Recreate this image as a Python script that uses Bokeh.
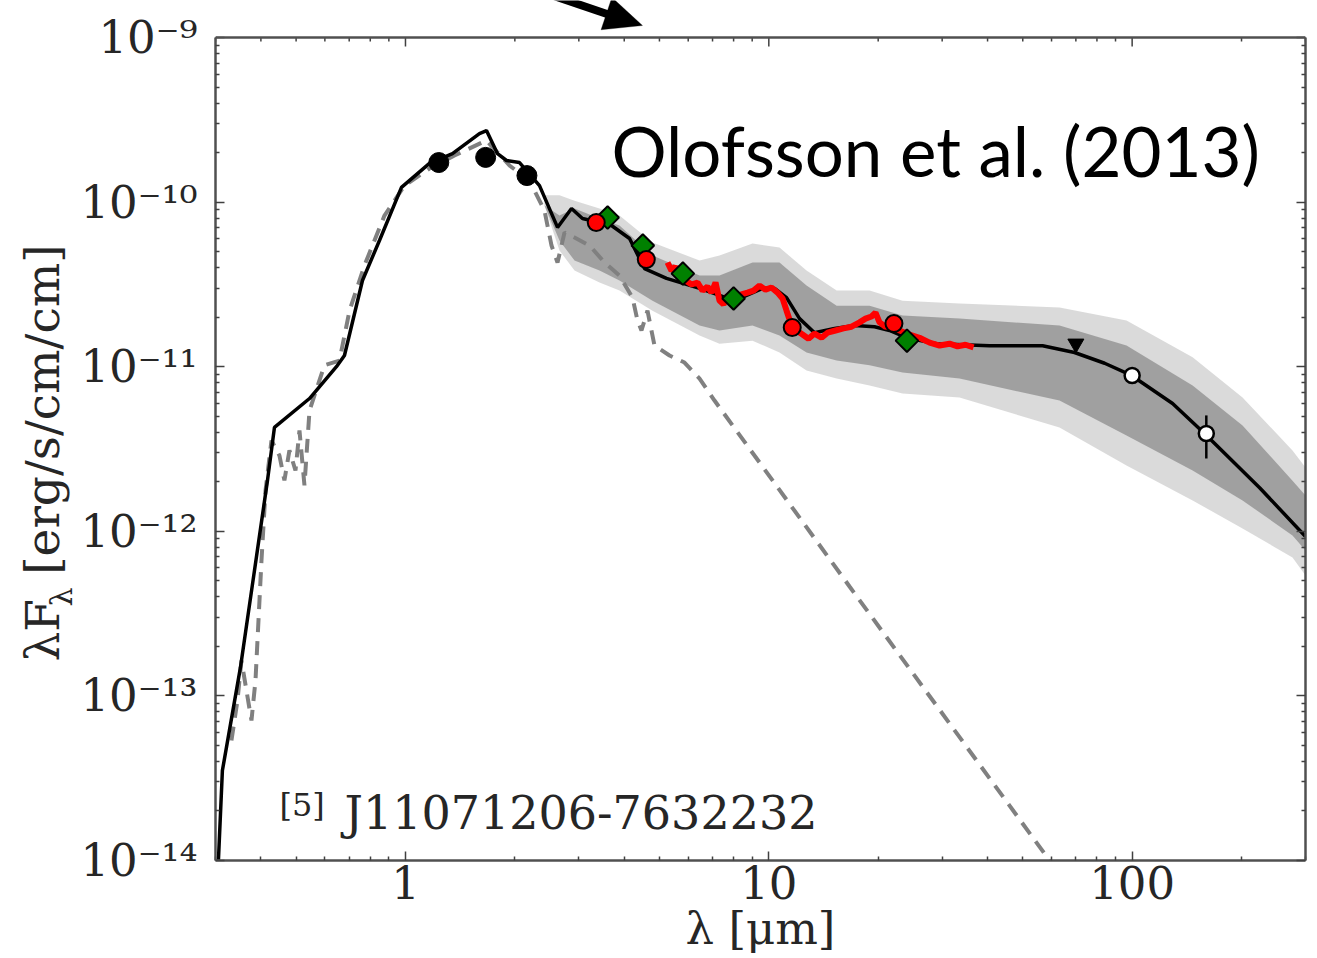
import math
from bokeh.plotting import figure
from bokeh.models import (LogAxis, FixedTicker, CustomJSTickFormatter, Label, Arrow,
                          PolyAnnotation, Range1d, Span)
from bokeh.embed import file_html
from bokeh.resources import INLINE

# ---------------- data ----------------
# best-fit model SED (black solid line): wavelength [um], lambda*F_lambda
model_lam = [0.3056, 0.3134, 0.3514, 0.4171, 0.4359, 0.5443, 0.6456, 0.6793, 0.7614, 0.848,
             0.975, 1.164, 1.347, 1.598, 1.671, 1.792, 1.897, 2.060, 2.338, 2.621,
             2.864, 3.07, 3.42, 3.69, 4.137, 4.549, 5.23, 6.45, 8.05, 9.61,
             10.37, 11.19, 12.15, 13.36, 15.17, 17.21, 19.54, 21.49, 23.93, 28.95,
             40.5, 56.7, 69.4, 84.0, 99.6, 129.2, 158.2, 224.3, 300.0]
model_flux = [1.0e-14, 3.52e-14, 1.49e-13, 2.04e-12, 4.28e-12, 6.41e-12, 1.0e-11, 1.17e-11, 3.34e-11, 5.85e-11,
              1.23e-10, 1.72e-10, 1.97e-10, 2.61e-10, 2.72e-10, 1.97e-10, 1.79e-10, 1.74e-10, 1.26e-10, 7.02e-11,
              9.14e-11, 7.95e-11, 7.52e-11, 7.21e-11, 6.01e-11, 3.95e-11, 3.44e-11, 2.99e-11, 2.52e-11, 2.99e-11,
              2.99e-11, 2.63e-11, 1.96e-11, 1.61e-11, 1.71e-11, 1.78e-11, 1.75e-11, 1.66e-11, 1.50e-11, 1.38e-11,
              1.34e-11, 1.34e-11, 1.22e-11, 1.05e-11, 8.85e-12, 5.98e-12, 3.93e-12, 1.84e-12, 9.3e-13]

# stellar photosphere (grey dashed line)
star_lam = [0.3319, 0.3448, 0.3536, 0.3650, 0.3768, 0.3865, 0.4015, 0.4119, 0.4277, 0.4498,
            0.4643, 0.4793, 0.4980, 0.5108, 0.5272, 0.5443, 0.5984, 0.6581, 0.7014, 0.7711,
            0.8753, 0.9936, 1.164, 1.364, 1.671, 1.933, 2.194, 2.413, 2.523, 2.621,
            2.740, 2.919, 3.211, 3.530, 3.882, 4.215, 4.351, 4.462, 4.635, 4.846,
            5.330, 5.861, 6.448, 7.088, 9.428, 16.68, 31.44, 59.26]
star_flux = [5.36e-14, 9.37e-14, 1.64e-13, 1.08e-13, 7.09e-14, 1.24e-13, 6.65e-13, 1.77e-12, 3.56e-12, 2.89e-12,
             2.04e-12, 3.10e-12, 2.34e-12, 4.10e-12, 1.90e-12, 5.42e-12, 1.02e-11, 1.09e-11, 2.19e-11, 4.12e-11,
             8.29e-11, 1.26e-10, 1.60e-10, 1.92e-10, 2.37e-10, 1.67e-10, 1.35e-10, 8.89e-11, 5.45e-11, 4.30e-11,
             6.54e-11, 6.10e-11, 5.45e-11, 4.30e-11, 3.58e-11, 2.63e-11, 1.91e-11, 1.66e-11, 2.19e-11, 1.345e-11,
             1.17e-11, 1.06e-11, 8.48e-12, 6.23e-12, 2.62e-12, 4.62e-13, 6.80e-14, 1.0e-14]

# envelope of the family of models (grey band)
band_lam = [2.413, 2.654, 2.919, 3.420, 3.882, 4.785, 6.448, 7.316, 9.018, 10.70,
            12.70, 15.37, 18.94, 23.34, 33.49, 63.11, 96.5, 146.7, 201.3, 276.3, 300.0]
band_outer_hi = [1.10e-10, 1.10e-10, 1.02e-10, 9.14e-11, 8.29e-11, 5.68e-11, 4.42e-11, 4.74e-11, 5.60e-11, 5.30e-11,
                 3.84e-11, 2.90e-11, 2.90e-11, 2.52e-11, 2.42e-11, 2.29e-11, 1.91e-11, 1.14e-11, 6.50e-12, 3.10e-12, 2.44e-12]
band_outer_lo = [9.54e-11, 5.08e-11, 3.84e-11, 3.25e-11, 2.90e-11, 2.19e-11, 1.55e-11, 1.38e-11, 1.44e-11, 1.22e-11,
                 9.48e-12, 8.48e-12, 7.69e-12, 6.87e-12, 6.50e-12, 4.27e-12, 2.51e-12, 1.54e-12, 1.04e-12, 6.93e-13, 5.39e-13]
band_inner_hi = [9.54e-11, 8.29e-11, 9.14e-11, 7.95e-11, 7.21e-11, 4.74e-11, 3.58e-11, 3.58e-11, 4.30e-11, 4.30e-11,
                 3.11e-11, 2.35e-11, 2.35e-11, 2.05e-11, 1.96e-11, 1.78e-11, 1.345e-11, 7.69e-12, 4.39e-12, 2.03e-12, 1.65e-12]
band_inner_lo = [9.54e-11, 5.84e-11, 4.42e-11, 3.84e-11, 3.34e-11, 2.52e-11, 1.78e-11, 1.66e-11, 1.78e-11, 1.55e-11,
                 1.22e-11, 1.09e-11, 1.02e-11, 9.22e-12, 8.48e-12, 6.23e-12, 3.82e-12, 2.34e-12, 1.54e-12, 9.43e-13, 7.64e-13]

# Spitzer/IRS spectrum (red)
irs_lam = [5.263, 5.398, 5.537, 5.679, 5.899, 6.128, 6.365, 6.570, 6.782, 6.956,
           7.134, 7.316, 7.504, 7.696, 8.045, 8.410, 8.737, 9.076, 9.428, 9.793,
           10.17, 10.57, 10.91, 11.19, 11.47, 11.92, 12.38, 12.86, 13.36, 13.97,
           14.51, 15.26, 16.05, 16.89, 17.77, 18.46, 19.17, 19.66, 20.17, 20.95,
           21.77, 22.90, 24.39, 25.99, 27.70, 29.51, 31.44, 33.07, 34.78, 36.60]
irs_flux = [4.30e-11, 3.84e-11, 4.06e-11, 3.48e-11, 3.34e-11, 3.16e-11, 3.25e-11, 2.90e-11, 3.07e-11, 2.82e-11,
            3.25e-11, 2.52e-11, 2.39e-11, 2.71e-11, 2.60e-11, 2.75e-11, 2.82e-11, 2.90e-11, 3.11e-11, 2.94e-11,
            3.03e-11, 2.82e-11, 2.60e-11, 2.19e-11, 1.86e-11, 1.66e-11, 1.57e-11, 1.48e-11, 1.59e-11, 1.50e-11,
            1.61e-11, 1.66e-11, 1.71e-11, 1.75e-11, 1.86e-11, 1.96e-11, 2.02e-11, 2.13e-11, 1.86e-11, 1.75e-11,
            1.78e-11, 1.66e-11, 1.57e-11, 1.50e-11, 1.40e-11, 1.345e-11, 1.38e-11, 1.33e-11, 1.36e-11, 1.31e-11]

# photometry
jhk_lam = [1.235, 1.662, 2.159]
jhk_flux = [1.74e-10, 1.87e-10, 1.45e-10]
wise_lam = [3.35, 4.6, 11.6, 22.1]
wise_flux = [7.52e-11, 4.48e-11, 1.73e-11, 1.83e-11]
irac_lam = [3.6, 4.5, 5.8, 8.0, 24.0]
irac_flux = [8.06e-11, 5.45e-11, 3.68e-11, 2.60e-11, 1.44e-11]
ulim_lam = [70.0]
ulim_flux = [1.38e-11]
pacs_lam = [100.0, 160.0]
pacs_flux = [8.85e-12, 3.93e-12]
pacs_err_lo = [8.85e-12, 2.77e-12]
pacs_err_hi = [8.85e-12, 5.06e-12]

x_major = [1, 10, 100]
y_major = [1e-14, 1e-13, 1e-12, 1e-11, 1e-10, 1e-9]
Y_BOTTOM, Y_TOP_AXIS = 1e-14, 1e-9
Y_VIEW_TOP = 1.679e-9   # the white strip above the panel (holds the arrow)

# ---------------- figure ----------------
SERIF = "DejaVu Serif"
TXT = "#262626"
FRAME = "#505050"
p = figure(width=1309, height=958, x_axis_type="log", y_axis_type="log",
           x_range=Range1d(0.3, 300), y_range=Range1d(Y_BOTTOM, Y_VIEW_TOP),
           output_backend="svg", toolbar_location=None,
           min_border_left=215, min_border_right=4, min_border_top=0, min_border_bottom=98)
p.grid.visible = False
p.background_fill_color = "white"
p.outline_line_color = None

x_minor = [k * 10.0 ** e for e in range(-1, 3) for k in range(2, 10) if 0.3 <= k * 10.0 ** e <= 300]
y_minor = [k * 10.0 ** e for e in range(-14, -9) for k in range(2, 10)]
xticker = FixedTicker(ticks=x_major, minor_ticks=x_minor)
yticker = FixedTicker(ticks=y_major, minor_ticks=y_minor)

yfmt = CustomJSTickFormatter(code="""
const e = Math.round(Math.log10(tick));
const sup = {'-':'\u207b','0':'\u2070','1':'\u00b9','2':'\u00b2','3':'\u00b3','4':'\u2074',
             '5':'\u2075','6':'\u2076','7':'\u2077','8':'\u2078','9':'\u2079'};
return '10' + String(e).split('').map(c => sup[c]).join('');
""")
xfmt = CustomJSTickFormatter(code="return String(Math.round(tick));")
blankfmt = CustomJSTickFormatter(code="return '';")


def style_axis(ax, show_labels):
    ax.axis_line_color = FRAME
    ax.axis_line_width = 2.5
    ax.major_tick_in = 9
    ax.major_tick_out = 0
    ax.minor_tick_in = 4
    ax.minor_tick_out = 0
    ax.major_tick_line_color = "#404040"
    ax.minor_tick_line_color = "#404040"
    ax.major_tick_line_width = 1.5
    ax.minor_tick_line_width = 1.5
    if show_labels:
        ax.major_label_text_font = SERIF
        ax.major_label_text_font_size = "45px"
        ax.major_label_text_color = TXT
    else:
        ax.major_label_standoff = 0


xax = p.xaxis[0]
yax = p.yaxis[0]
xax.ticker = xticker
xax.formatter = xfmt
yax.ticker = yticker
yax.formatter = yfmt
style_axis(xax, True)
style_axis(yax, True)
yax.bounds = (Y_BOTTOM, Y_TOP_AXIS)
xax.major_label_standoff = 5
yax.major_label_standoff = 18

xax.axis_label = "\u03bb [\u03bcm]"
xax.axis_label_text_font = SERIF
xax.axis_label_text_font_size = "45px"
xax.axis_label_text_font_style = "normal"
xax.axis_label_text_color = TXT
xax.axis_label_standoff = 0

# y title; gap after "λF" holds the subscript λ, trailing spaces re-centre it on the panel
yax.axis_label = "\u03bbF\u00a0\u2009[erg/s/cm/cm]\u00a0\u00a0\u00a0"
yax.axis_label_text_font = SERIF
yax.axis_label_text_font_size = "47px"
yax.axis_label_text_font_style = "normal"
yax.axis_label_text_color = TXT
yax.axis_label_standoff = 7

right_ax = LogAxis(ticker=yticker, formatter=blankfmt, bounds=(Y_BOTTOM, Y_TOP_AXIS))
style_axis(right_ax, False)
p.add_layout(right_ax, "right")

# subscript lambda of the y title, drawn as a rotated tick label of a bare axis
sub_ax = LogAxis(ticker=FixedTicker(ticks=[4.56e-13], minor_ticks=[]),
                 formatter=CustomJSTickFormatter(code="return '\u03bb';"),
                 major_label_orientation=math.pi / 2, major_label_text_font=SERIF,
                 major_label_text_font_size="30px", major_label_text_color=TXT,
                 major_tick_in=0, major_tick_out=0, minor_tick_in=0, minor_tick_out=0,
                 axis_line_color=None, major_label_standoff=-49)
p.add_layout(sub_ax, "left")

# top edge of the panel with its inward ticks
p.add_layout(Span(location=Y_TOP_AXIS, dimension="width", line_color=FRAME, line_width=2.5))
TICK_MAJ, TICK_MIN = 0.882, 0.946  # 9 px and 4 px inward on this log scale
p.segment(x0=x_major, x1=x_major, y0=[Y_TOP_AXIS] * len(x_major),
          y1=[Y_TOP_AXIS * TICK_MAJ] * len(x_major), line_color="#404040", line_width=1.5)
p.segment(x0=x_minor, x1=x_minor, y0=[Y_TOP_AXIS] * len(x_minor),
          y1=[Y_TOP_AXIS * TICK_MIN] * len(x_minor), line_color="#404040", line_width=1.5)

# grey band of models
p.varea(x=band_lam, y1=band_outer_lo, y2=band_outer_hi, fill_color="#8f8f8f", fill_alpha=0.33)
p.varea(x=band_lam, y1=band_inner_lo, y2=band_inner_hi, fill_color="#7a7a7a", fill_alpha=0.6)

# photosphere
p.line(star_lam, star_flux, line_color="#808080", line_width=4, line_dash="14 9")
# best model
p.line(model_lam, model_flux, line_color="black", line_width=3.5)
# IRS spectrum
p.line(irs_lam, irs_flux, line_color="#ff0000", line_width=6)

# photometry
p.scatter(jhk_lam, jhk_flux, marker="circle", size=20, fill_color="black", line_color="black")
p.scatter(irac_lam, irac_flux, marker="square", angle=math.pi / 4, size=16,
          fill_color="#008000", line_color="black", line_width=2)
p.scatter(wise_lam, wise_flux, marker="circle", size=17, fill_color="#ff0000", line_color="black", line_width=2)
p.scatter(ulim_lam, ulim_flux, marker="inverted_triangle", size=16, fill_color="black", line_color="black")
p.segment(x0=pacs_lam, y0=pacs_err_lo, x1=pacs_lam, y1=pacs_err_hi, line_color="black", line_width=2.5)
p.scatter(pacs_lam, pacs_flux, marker="circle", size=15, fill_color="white", line_color="black", line_width=2.5)

# texts
p.add_layout(Label(x=3.69, y=2.06e-10, text="Olofsson et al. (2013)", text_font="Lato",
                   text_font_size="69px", text_color="black", text_baseline="alphabetic"))
p.add_layout(Label(x=0.4498, y=2.16e-14, text="[5]", text_font=SERIF, text_font_size="32px",
                   text_color=TXT, text_baseline="alphabetic"))
p.add_layout(Label(x=0.6793, y=1.93e-14, text="J11071206-7632232", text_font=SERIF,
                   text_font_size="46px", text_color=TXT, text_baseline="alphabetic"))

# arrow entering the panel from above (decoration; annotation coordinates)
arrow_shaft = dict(x_start=2.208, y_start=2.0e-9, x_end=3.62, y_end=1.38e-9)
arrow_head_x = [4.49, 3.454, 3.700]
arrow_head_y = [1.183e-9, 1.115e-9, 1.754e-9]
p.add_layout(Arrow(end=None, line_color="black", line_width=8, **arrow_shaft))
p.add_layout(PolyAnnotation(xs=arrow_head_x, ys=arrow_head_y, fill_color="black", fill_alpha=1.0,
                            line_color="black", line_width=1))

open("out.html", "w").write(file_html(p, INLINE))
